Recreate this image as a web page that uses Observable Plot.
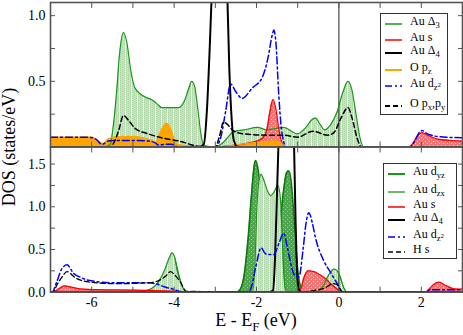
<!DOCTYPE html>
<html><head><meta charset="utf-8">
<script src="https://cdn.jsdelivr.net/npm/d3@7"></script>
<script src="https://cdn.jsdelivr.net/npm/@observablehq/plot@0.6"></script>
<style>
body{margin:0;background:#fff;}
#wrap{position:relative;width:463px;height:335px;font-family:'Liberation Serif','DejaVu Serif',serif;overflow:hidden;background:#fff}
.leg{position:absolute;background:#fff;border:1px solid #333;box-sizing:border-box}
.lt{position:absolute;font-size:12px;line-height:15px;white-space:nowrap;color:#000}
.lt sub{font-size:0.72em;vertical-align:-0.35em;line-height:0}
.lt sup{font-size:0.8em;vertical-align:0.45em;line-height:0}
.ax{position:absolute;font-size:18px;line-height:20px;white-space:nowrap;color:#000;font-family:'Liberation Serif','DejaVu Serif',serif}
.ax sub{font-size:0.72em;vertical-align:-0.35em;line-height:0}
</style></head><body><div id="wrap"></div>
<script>
// ---------- axis ticks ----------
const xTicks = [-7,-6,-5,-4,-3,-2,-1,0,1,2,3];
const xTickLabels = [-6,-4,-2,0,2];
const yTicksTop = [0,0.25,0.5,0.75,1.0];
const yLabelsTop = [0.5,1.0];
const yTicksBot = [0,0.25,0.5,0.75,1.0,1.25,1.5];
const yLabelsBot = [0,0.5,1.0,1.5];

// ---------- top panel ----------
const topD3_E = [-7,-5.7,-5.55,-5.48,-5.4,-5.32,-5.23,-5.15,-5.05,-4.95,-4.7,-4.54,-4.42,-4.3,-4.1,-3.89,-3.75,-3.65,-3.57,-3.5,-3.42,-3.35,-3.28,-3.0,-2.79,-2.65,-2.55,-2.3,-1.98,-1.74,-1.55,-1.34,-1.15,-1.01,-0.8,-0.65,-0.57,-0.45,-0.35,-0.2,-0.04,0.1,0.22,0.32,0.4,0.52,0.6,3];
const topD3_V = [0,0,0.02,0.15,0.4,0.72,0.87,0.8,0.58,0.45,0.38,0.36,0.33,0.30,0.30,0.30,0.35,0.44,0.50,0.46,0.28,0.10,0.01,0,0.04,0.09,0.12,0.13,0.15,0.13,0.14,0.15,0.12,0.10,0.15,0.21,0.22,0.17,0.13,0.17,0.27,0.42,0.50,0.43,0.28,0.06,0,0];
const topS_E = [-7,-3.0,-2.6,-2.2,-2.0,-1.85,-1.75,-1.68,-1.6,-1.53,-1.46,-1.38,-1.3,1.7,1.8,1.92,2.02,2.15,2.39,2.7,3];
const topS_V = [0,0,0.01,0.03,0.045,0.07,0.13,0.26,0.36,0.29,0.14,0.03,0,0,0.03,0.09,0.11,0.09,0.06,0.05,0.045];
const topD4_E = [-7,-3.4,-3.28,-3.2,-3.13,-3.07,-2.9,-2.72,-2.66,-2.6,-2.55,-2.45,3];
const topD4_V = [0,0,0.02,0.3,0.8,1.3,3.0,1.3,0.6,0.2,0.05,0,0];
const topPz_E = [-7,-6.0,-5.85,-5.72,-5.6,-5.45,-5.03,-4.7,-4.55,-4.45,-4.35,-4.25,-4.18,-4.1,-4.02,-3.95,-3.85,-3.4,-3.0,-2.8,-2.4,-1.98,-1.58,-1.45,-1.37,-1.3,3];
const topPz_V = [0.075,0.075,0.05,0.025,0.06,0.075,0.08,0.065,0.05,0.035,0.1,0.16,0.18,0.15,0.08,0.03,0.015,0.005,0,0.005,0.02,0.035,0.045,0.04,0.02,0,0];
const topDz2_E = [-7,-6.1,-5.9,-5.75,-5.6,-5.4,-5.03,-4.6,-4.45,-4.38,-4.2,-4.06,-3.9,-3.0,-2.87,-2.75,-2.63,-2.5,-2.35,-2.1,-1.86,-1.72,-1.62,-1.58,-1.53,-1.46,-1.4,-1.34,-1.28,1.72,1.85,1.95,2.02,2.15,2.3,2.6,3];
const topDz2_V = [0.075,0.075,0.06,0.02,0.045,0.05,0.05,0.045,0.03,0.015,0.02,0.02,0,0,0.07,0.27,0.48,0.42,0.37,0.45,0.53,0.68,0.85,0.89,0.8,0.4,0.15,0.04,0,0,0.05,0.11,0.125,0.1,0.085,0.075,0.07];
const topPxy_E = [-7,-5.55,-5.45,-5.35,-5.23,-5.1,-4.94,-4.63,-4.3,-3.81,-3.5,-3.3,-3.0,-2.9,-2.8,-2.7,-2.55,-2.31,-1.74,-1.34,-1.01,-0.62,-0.28,-0.12,0.05,0.22,0.32,0.44,0.55,3];
const topPxy_V = [0,0,0.04,0.12,0.24,0.2,0.14,0.1,0.07,0.04,0.01,0,0,0.08,0.19,0.17,0.12,0.1,0.09,0.09,0.075,0.12,0.09,0.11,0.22,0.30,0.22,0.07,0,0];

// ---------- bottom panel ----------
const botDyz_E = [-7,-4.9,-4.6,-4.4,-4.22,-4.12,-4.05,-3.98,-3.9,-3.81,-3.7,-2.5,-2.4,-2.3,-2.2,-2.12,-2.05,-2.02,-1.97,-1.9,-1.8,-1.7,-1.6,-1.5,-1.42,-1.34,-1.27,-1.22,-1.16,-1.1,-1.04,-0.98,-0.92,-0.85,-0.55,-0.4,-0.25,-0.12,0.0,0.12,0.2,3];
const botDyz_V = [0,0,0.02,0.1,0.25,0.38,0.44,0.38,0.22,0.07,0,0,0.03,0.2,0.65,1.15,1.5,1.54,1.46,1.2,0.8,0.6,0.55,0.6,0.85,1.2,1.4,1.42,1.3,0.95,0.5,0.18,0.05,0,0,0.05,0.18,0.26,0.2,0.04,0,0];
const botDzx_E = [-7,-4.9,-4.6,-4.38,-4.22,-4.12,-4.05,-3.98,-3.93,-3.81,-3.7,-2.1,-2.04,-1.99,-1.94,-1.89,-1.8,-1.72,-1.66,-1.58,-1.48,-1.42,-1.38,-1.34,-1.28,-0.55,-0.4,-0.25,-0.12,0.0,0.12,0.2,3];
const botDzx_V = [0,0,0.03,0.12,0.27,0.4,0.46,0.4,0.27,0.08,0,0,0.3,1.0,1.3,1.38,1.28,1.17,1.13,1.17,1.25,1.1,0.7,0.25,0,0,0.06,0.2,0.27,0.22,0.05,0,0];
const botS_E = [-7,-6.93,-6.8,-6.65,-6.5,-6.3,-5.85,-5.0,-4.6,-4.0,-3.7,-1.0,-0.93,-0.85,-0.75,-0.6,-0.45,-0.3,-0.2,-0.05,0.05,2.1,2.2,2.3,2.43,2.55,2.79,3];
const botS_V = [0,0,0.04,0.075,0.06,0.04,0.03,0.025,0.02,0.012,0.005,0,0.03,0.17,0.25,0.24,0.2,0.15,0.1,0.04,0,0,0.04,0.09,0.117,0.09,0.04,0.035];
const botD4_E = [-7,-1.7,-1.6,-1.55,-1.5,-1.45,-1.3,-1.1,-1.05,-1.0,-0.96,-0.9,3];
const botD4_V = [0,0,0.02,0.4,1.2,2.0,4.0,2.0,0.8,0.12,0.02,0,0];
const botDz2_E = [-7,-6.96,-6.85,-6.73,-6.6,-6.44,-6.25,-6.08,-5.43,-4.63,-4.38,-4.22,-4.05,-3.9,-3.8,-2.25,-2.15,-2.02,-1.89,-1.8,-1.74,-1.58,-1.45,-1.34,-1.25,-1.15,-1.09,-0.97,-0.87,-0.8,-0.73,-0.65,-0.57,-0.37,-0.2,-0.04,0.1,2.1,2.2,2.5,3];
const botDz2_V = [0,0,0.12,0.27,0.32,0.22,0.17,0.14,0.11,0.11,0.09,0.06,0.04,0.015,0,0,0.03,0.29,0.52,0.46,0.44,0.44,0.58,0.69,0.52,0.3,0.21,0.18,0.5,0.8,0.93,0.82,0.64,0.37,0.23,0.1,0,0,0.03,0.03,0.03];
const botH_E = [-7,-6.93,-6.85,-6.73,-6.6,-6.4,-6.08,-5.43,-4.63,-4.4,-4.2,-4.09,-3.98,-3.85,-3.7,-0.9,-0.6,-0.3,-0.15,-0.05,0.1,3];
const botH_V = [0,0,0.08,0.17,0.24,0.17,0.12,0.1,0.11,0.13,0.19,0.24,0.2,0.12,0.01,0,0.02,0.06,0.1,0.09,0,0];

const rows = (E, V) => E.map((e, i) => ({e, v: V[i]}));
const C = "monotone-x";
const GREEN = "#1b961b";
const RED = "#ff0000", ORANGE = "#ffa500", BLUE = "#0000ff";
const LGFILL = "url(#hatchG)", DGFILL = "url(#hatchDG)", RFILL = "url(#dotR)";
const DASHDOT = "7,3,2,3", DASH = "5,3";

function area(E, V, fill, extra = {}) { return Plot.areaY(rows(E, V), {x: "e", y: "v", fill, curve: C, clip: true, ...extra}); }
function line(E, V, stroke, w, dash, extra = {}) { return Plot.line(rows(E, V), {x: "e", y: "v", stroke, strokeWidth: w, strokeDasharray: dash, curve: C, clip: true, ...extra}); }

function axes(yTicks, yLabels, showX) {
  return [
    Plot.axisX({anchor: "bottom", ticks: xTicks, tickSize: -5, tickPadding: 10, stroke: "#555", label: null,
      tickFormat: d => (showX && xTickLabels.includes(d)) ? String(d) : ""}),
    Plot.axisX({anchor: "top", ticks: xTicks, tickSize: -5, stroke: "#555", label: null, tickFormat: () => ""}),
    Plot.axisY({anchor: "left", ticks: yTicks, tickSize: -5, tickPadding: 10, stroke: "#555", label: null,
      tickFormat: d => yLabels.some(t => Math.abs(t - d) < 1e-9) ? d.toFixed(1) : ""}),
    Plot.axisY({anchor: "right", ticks: yTicks, tickSize: -5, stroke: "#555", label: null, tickFormat: () => ""})
  ];
}

const common = {
  width: 463, height: 335, marginLeft: 50, marginRight: 1,
  style: {fontFamily: "'Liberation Serif','DejaVu Serif',serif", fontSize: "14px", background: "transparent", color: "#000"}
};

const topPlot = Plot.plot({
  ...common, marginTop: 2, marginBottom: 188.5,
  x: {domain: [-7, 3], axis: null},
  y: {domain: [0, 1.1], axis: null},
  marks: [
    area(topD3_E, topD3_V, LGFILL),
    area(topS_E, topS_V, RFILL),
    area(topPz_E, topPz_V, ORANGE),
    Plot.ruleX([0], {stroke: "#222", strokeWidth: 1}),
    line(topD3_E, topD3_V, GREEN, 1.2),
    line(topS_E, topS_V, RED, 1.3),
    line(topPz_E, topPz_V, ORANGE, 1.3),
    line(topD4_E, topD4_V, "#000", 2),
    line(topDz2_E, topDz2_V, BLUE, 1.5, DASHDOT),
    line(topPxy_E, topPxy_V, "#000", 1.5, DASH),
    Plot.frame({stroke: "#555", strokeWidth: 1.6}),
    ...axes(yTicksTop, yLabelsTop, false)
  ]
});

const botPlot = Plot.plot({
  ...common, marginTop: 146.5, marginBottom: 43.3,
  x: {domain: [-7, 3], axis: null},
  y: {domain: [0, 1.7], axis: null},
  marks: [
    area(botDyz_E, botDyz_V, DGFILL),
    line(botDyz_E, botDyz_V, "#0e7a0e", 1.6),
    area(botDzx_E, botDzx_V, LGFILL),
    area(botS_E, botS_V, RFILL),
    Plot.ruleX([0], {stroke: "#222", strokeWidth: 1}),
    line(botDzx_E, botDzx_V, GREEN, 1.2),
    line(botS_E, botS_V, RED, 1.3),
    line(botD4_E, botD4_V, "#000", 2),
    line(botDz2_E, botDz2_V, BLUE, 1.5, DASHDOT),
    line(botH_E, botH_V, "#000", 1.3, DASH),
    Plot.frame({stroke: "#555", strokeWidth: 1.6}),
    ...axes(yTicksBot, yLabelsBot, true)
  ]
});

// fill patterns (hatched green, dotted red) like the original xmgrace fills
const patternDefs = `
<pattern id="hatchG" patternUnits="userSpaceOnUse" width="6" height="2">
  <rect width="6" height="2" fill="#c6e4c1"/><rect x="0" y="0" width="1" height="1" fill="#a9d3a3"/><rect x="2" y="1" width="1" height="1" fill="#a9d3a3"/><rect x="4" y="0" width="1" height="1" fill="#a9d3a3"/><rect x="5" y="0" width="1" height="2" fill="#eef7ec"/>
</pattern>
<pattern id="hatchDG" patternUnits="userSpaceOnUse" width="4" height="4">
  <rect width="4" height="4" fill="#4fa64f"/><rect x="1" y="1" width="1" height="1" fill="#8fcb8f"/><rect x="3" y="3" width="1" height="1" fill="#8fcb8f"/>
</pattern>
<pattern id="dotR" patternUnits="userSpaceOnUse" width="4" height="4">
  <rect width="4" height="4" fill="#f57575"/><rect x="1" y="1" width="1" height="1" fill="#ffd0d0"/><rect x="3" y="3" width="1" height="1" fill="#ffd0d0"/>
</pattern>`;

const wrap = document.getElementById("wrap");
for (const p of [topPlot, botPlot]) {
  p.style.position = "absolute"; p.style.left = "0px"; p.style.top = "0px";
  p.style.background = "transparent"; p.style.maxWidth = "none";
  const defs = document.createElementNS("http://www.w3.org/2000/svg", "defs");
  defs.innerHTML = patternDefs;
  p.insertBefore(defs, p.firstChild);
  wrap.appendChild(p);
}

// ---------- legends ----------
const topLegend = {
  box: [380, 13, 68, 102], lineX: [385, 402], textX: 410,
  items: [
    {label: "Au Δ<sub>3</sub>", stroke: GREEN, w: 1.5, dash: null, y: 24},
    {label: "Au s", stroke: RED, w: 1.5, dash: null, y: 40},
    {label: "Au Δ<sub>4</sub>", stroke: "#000", w: 2, dash: null, y: 53},
    {label: "O p<sub>z</sub>", stroke: ORANGE, w: 2, dash: null, y: 70},
    {label: "Au d<sub>z<sup>2</sup></sub>", stroke: BLUE, w: 1.5, dash: DASHDOT, y: 86},
    {label: "O p<sub>x</sub>,p<sub>y</sub>", stroke: "#000", w: 1.8, dash: DASH, y: 106}
  ]
};
const botLegend = {
  box: [383, 163, 74, 96], lineX: [388, 405], textX: 413,
  items: [
    {label: "Au d<sub>yz</sub>", stroke: GREEN, w: 2, dash: null, y: 174},
    {label: "Au d<sub>zx</sub>", stroke: GREEN, w: 1.3, dash: null, y: 192},
    {label: "Au s", stroke: RED, w: 1.5, dash: null, y: 207},
    {label: "Au Δ<sub>4</sub>", stroke: "#000", w: 2, dash: null, y: 220},
    {label: "Au d<sub>z<sup>2</sup></sub>", stroke: BLUE, w: 1.5, dash: DASHDOT, y: 237},
    {label: "H s", stroke: "#000", w: 1.3, dash: DASH, y: 252}
  ]
};
function drawLegend(L) {
  const b = document.createElement("div");
  b.className = "leg";
  Object.assign(b.style, {left: L.box[0] + "px", top: L.box[1] + "px", width: L.box[2] + "px", height: L.box[3] + "px"});
  wrap.appendChild(b);
  const ns = "http://www.w3.org/2000/svg";
  const s = document.createElementNS(ns, "svg");
  s.setAttribute("width", 463); s.setAttribute("height", 335);
  Object.assign(s.style, {position: "absolute", left: "0px", top: "0px", overflow: "visible"});
  for (const it of L.items) {
    const l = document.createElementNS(ns, "line");
    l.setAttribute("x1", L.lineX[0]); l.setAttribute("x2", L.lineX[1]);
    l.setAttribute("y1", it.y); l.setAttribute("y2", it.y);
    l.setAttribute("stroke", it.stroke); l.setAttribute("stroke-width", it.w);
    if (it.dash) l.setAttribute("stroke-dasharray", it.dash);
    s.appendChild(l);
    const t = document.createElement("div");
    t.className = "lt";
    t.innerHTML = it.label;
    Object.assign(t.style, {left: L.textX + "px", top: (it.y - 10) + "px"});
    wrap.appendChild(t);
  }
  wrap.appendChild(s);
}
drawLegend(topLegend);
drawLegend(botLegend);

// ---------- axis titles ----------
const xl = document.createElement("div");
xl.className = "ax";
xl.innerHTML = "E - E<sub>F</sub> (eV)";
Object.assign(xl.style, {left: "156px", width: "200px", textAlign: "center", top: "310px"});
wrap.appendChild(xl);
const yl = document.createElement("div");
yl.className = "ax";
yl.textContent = "DOS (states/eV)";
Object.assign(yl.style, {left: "9px", top: "147px", transform: "translate(-50%,-50%) rotate(-90deg)"});
wrap.appendChild(yl);
</script></body></html>
